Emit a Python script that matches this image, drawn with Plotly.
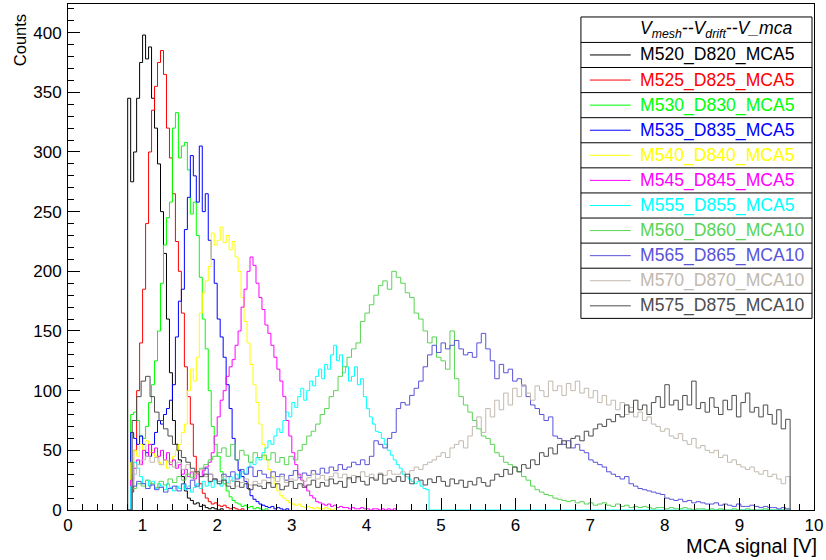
import numpy as np
import plotly.graph_objects as go

# ---------------- data ----------------
BIN_START = 0.80          # first bin lower edge [V]
BIN_W_MCA5 = 0.04         # bin width of the MCA5 histograms [V]
BIN_W_MCA10 = 0.06        # bin width of the MCA10 histograms [V]

names = ["M520_D820_MCA5", "M525_D825_MCA5", "M530_D830_MCA5", "M535_D835_MCA5",
         "M540_D840_MCA5", "M545_D845_MCA5", "M555_D855_MCA5", "M560_D860_MCA10",
         "M565_D865_MCA10", "M570_D870_MCA10", "M575_D875_MCA10"]

m520 = [345, 275, 300, 345, 375, 398, 378, 388, 345, 320,
        290, 250, 215, 160, 115, 75, 55, 42, 28, 16,
        10, 8, 5, 6, 3, 4, 2, 1, 2, 1,
        0, 1]

m525 = [0, 15, 50, 100, 140, 185, 240, 300, 335, 355,
        375, 385, 365, 320, 295, 265, 225, 200, 165, 120,
        95, 72, 45, 30, 22, 14, 10, 7, 5, 6,
        4, 3, 4, 2, 1, 2, 1, 0, 1]

m530 = [0, 80, 82, 75, 62, 60, 70, 90, 105, 125,
        150, 190, 222, 245, 258, 320, 333, 295, 305, 308,
        285, 248, 258, 230, 195, 160, 135, 100, 70, 55,
        45, 32, 22, 16, 11, 8, 6, 5, 3, 4,
        2, 3, 1, 2, 1, 0, 1]

m535 = [0, 65, 60, 55, 62, 55, 48, 45, 55, 65,
        75, 72, 80, 85, 92, 105, 145, 175, 185, 235,
        262, 297, 280, 258, 305, 250, 265, 226, 210, 190,
        160, 145, 128, 105, 85, 60, 42, 33, 28, 24,
        18, 12, 9, 7, 5, 4, 3, 2, 3, 1,
        2, 1, 0, 1]

m540 = [0, 40, 50, 45, 55, 50, 58, 48, 50, 45,
        40, 38, 42, 35, 40, 45, 50, 55, 65, 72,
        100, 118, 108, 128, 165, 182, 192, 204, 232, 222,
        226, 237, 224, 230, 218, 225, 212, 200, 178, 158,
        140, 122, 105, 90, 72, 55, 42, 34, 28, 22,
        16, 12, 10, 8, 6, 5, 4, 5, 3, 2,
        3, 2, 1, 2, 1, 1, 2, 1, 0, 1]

m545 = [0, 25, 35, 42, 38, 50, 45, 55, 48, 52,
        45, 50, 42, 48, 38, 42, 35, 38, 30, 34,
        28, 32, 26, 30, 28, 33, 36, 40, 48, 62,
        78, 92, 100, 112, 120, 126, 138, 150, 170, 185,
        200, 212, 205, 190, 178, 168, 155, 148, 138, 128,
        118, 108, 95, 75, 62, 48, 38, 30, 25, 20,
        16, 12, 10, 7, 6, 5, 4, 5, 3, 4,
        2, 3, 2, 2, 1, 2, 1, 1, 2, 1,
        1, 0, 1, 1, 0, 1, 0, 1, 0, 1]

m555 = [0, 20, 40, 35, 28, 22, 25, 20, 24, 18,
        22, 20, 17, 22, 19, 16, 20, 18, 22, 17,
        20, 15, 19, 22, 18, 24, 20, 23, 19, 25,
        22, 20, 26, 23, 28, 24, 30, 27, 32, 30,
        36, 40, 38, 44, 42, 48, 52, 58, 55, 62,
        68, 65, 75, 82, 78, 90, 86, 95, 102, 92,
        100, 108, 104, 112, 118, 110, 122, 118, 130, 138,
        125, 130, 115, 120, 108, 112, 120, 105, 110, 95,
        85, 78, 72, 66, 65, 60, 55, 50, 46, 42,
        38, 35, 30, 28, 26, 24, 22, 24, 20, 18,
        17]
m555_empty_tail = [0] * 121   # empty bins up to 9.68 V

m560 = [0, 18, 22, 20, 25, 22, 19, 24, 21, 26,
        23, 28, 25, 30, 27, 32, 35, 38, 42, 45,
        48, 52, 45, 55, 42, 50, 46, 40, 48, 44,
        46, 42, 48, 40, 44, 38, 45, 42, 50, 55,
        62, 66, 72, 80, 85, 95, 100, 112, 120, 128,
        135, 140, 158, 165, 172, 180, 188, 192, 185, 200,
        195, 190, 182, 178, 165, 160, 150, 140, 145, 128,
        125, 118, 150, 110, 95, 88, 82, 75, 68, 62,
        60, 55, 48, 45, 40, 38, 36, 32, 28, 25,
        20, 17, 15, 13, 12, 10, 9, 8, 7, 8,
        6, 7, 5, 6, 4, 5, 6, 4, 3, 5,
        3, 4, 2, 3, 2, 3, 2, 1, 2, 2,
        1, 2, 1, 1, 2, 1, 0, 1, 1, 0,
        1, 0, 1, 0, 0, 1, 0, 0, 1, 0,
        0, 0, 1, 0, 0, 0, 0, 0]

m565 = [0, 20, 24, 22, 18, 21, 17, 19, 15, 18,
        20, 16, 22, 18, 25, 20, 28, 35, 30, 26,
        24, 30, 28, 32, 26, 34, 30, 36, 28, 33,
        30, 27, 32, 28, 30, 25, 29, 33, 27, 31,
        29, 33, 30, 35, 31, 36, 33, 38, 34, 36,
        40, 38, 42, 38, 45, 58, 55, 52, 60, 65,
        85, 90, 88, 96, 102, 108, 120, 130, 138, 132,
        140, 135, 138, 142, 135, 130, 132, 128, 140, 148,
        135, 125, 110, 122, 115, 118, 108, 110, 104, 95,
        88, 85, 80, 75, 78, 62, 60, 55, 58, 52,
        55, 50, 48, 42, 40, 38, 36, 32, 30, 28,
        26, 28, 22, 20, 18, 17, 16, 15, 14, 13,
        10, 9, 8, 9, 7, 8, 6, 7, 6, 5,
        5, 6, 4, 5, 4, 3, 5, 3, 3, 4,
        3, 2, 3, 2, 2, 1, 2, 1]

m570 = [0, 30, 38, 42, 45, 40, 44, 38, 42, 40,
        36, 40, 34, 38, 32, 30, 34, 28, 30, 26,
        24, 28, 22, 25, 20, 23, 26, 21, 24, 22,
        25, 22, 27, 24, 28, 23, 26, 25, 29, 24,
        27, 30, 26, 29, 25, 28, 31, 27, 30, 26,
        29, 27, 32, 28, 30, 26, 31, 29, 33, 30,
        30, 32, 28, 33, 36, 34, 38, 40, 42, 45,
        48, 44, 52, 55, 58, 52, 62, 70, 78, 65,
        85, 78, 92, 84, 98, 88, 102, 95, 105, 98,
        92, 104, 100, 95, 108, 100, 104, 96, 106, 100,
        108, 98, 102, 94, 100, 90, 96, 88, 92, 84,
        90, 80, 86, 78, 82, 75, 78, 72, 70, 66,
        68, 62, 60, 64, 58, 55, 60, 52, 54, 50,
        48, 50, 44, 46, 40, 42, 38, 36, 34, 36,
        32, 30, 33, 28, 30, 26, 22, 28]

m575 = [0, 75, 95, 108, 112, 95, 82, 75, 68, 62,
        55, 50, 44, 40, 35, 32, 28, 30, 24, 26,
        22, 25, 20, 18, 24, 19, 22, 17, 21, 20,
        18, 23, 19, 22, 17, 20, 24, 18, 22, 19,
        21, 25, 19, 23, 20, 26, 22, 24, 19, 27,
        23, 28, 24, 21, 27, 25, 30, 22, 26, 24,
        28, 24, 30, 22, 27, 25, 21, 26, 23, 28,
        24, 20, 26, 22, 25, 19, 24, 21, 27, 23,
        20, 25, 30, 28, 34, 30, 36, 32, 38, 35,
        42, 38, 48, 45, 52, 47, 55, 58, 52, 60,
        62, 58, 66, 62, 68, 72, 70, 76, 74, 80,
        78, 88, 82, 92, 84, 88, 80, 90, 95, 86,
        105, 88, 92, 84, 96, 88, 108, 85, 90, 82,
        94, 86, 80, 92, 84, 96, 78, 90, 98, 82,
        86, 78, 88, 80, 72, 84, 68, 76]

series_values = [m520, m525, m530, m535, m540, m545, m555 + m555_empty_tail,
                 m560, m565, m570, m575]
series_binw = [BIN_W_MCA5] * 7 + [BIN_W_MCA10] * 4

# ---------------- styles ----------------
colors = ["#000000", "#ff0000", "#00ff00", "#0000ff", "#ffff00", "#ff00ff",
          "#00ffff", "#59d454", "#5954d9", "#c2b9ae", "#4d4d4d"]
FONT = "Liberation Sans, Arial, Helvetica, sans-serif"

# plot-area pixel geometry
W, H = 826, 560
PL, PR, PT, PB = 68, 817, 3, 510
XMAX, YMAX = 10.0, 424.0


def px_x(px):
    return (px - PL) / (PR - PL)


def px_y(py):
    return (PB - py) / (PB - PT)


fig = go.Figure()
for name, vals, bw, col in zip(names, series_values, series_binw, colors):
    n = len(vals)
    edges = np.round(BIN_START + bw * np.arange(n + 1), 6)
    xs = [edges[0]] + list(edges[:-1]) + [edges[-1]]
    ys = [0] + list(vals) + [0]
    fig.add_trace(go.Scatter(x=xs, y=ys, mode="lines", name=name,
                             line=dict(color=col, width=1, shape="hv"),
                             showlegend=False, hoverinfo="skip"))

fig.update_layout(
    width=W, height=H,
    margin=dict(l=PL, r=W - PR, t=PT, b=H - PB),
    paper_bgcolor="white", plot_bgcolor="white",
    showlegend=False,
    font=dict(family=FONT, size=17, color="black"),
)
fig.update_xaxes(range=[0, XMAX], showgrid=False, zeroline=False,
                 showline=True, linecolor="black", linewidth=1, mirror=True,
                 ticks="inside", ticklen=12, tickwidth=1, tickcolor="black",
                 tick0=0, dtick=1, tickfont=dict(size=17),
                 ticklabelstandoff=0, ticklabeloverflow="allow",
                 minor=dict(ticks="inside", ticklen=6, dtick=0.2,
                            tickcolor="black", showgrid=False))
fig.update_yaxes(range=[0, YMAX], showgrid=False, zeroline=False,
                 showline=True, linecolor="black", linewidth=1, mirror=True,
                 ticks="inside", ticklen=12, tickwidth=1, tickcolor="black",
                 tick0=0, dtick=50, tickfont=dict(size=17),
                 ticklabelstandoff=2, ticklabeloverflow="allow",
                 minor=dict(ticks="inside", ticklen=6, dtick=10,
                            tickcolor="black", showgrid=False))

annotations = [
    dict(text="Counts", textangle=-90, xref="paper", yref="paper",
         x=px_x(20), y=px_y(11), xanchor="center", yanchor="top",
         showarrow=False, font=dict(size=16.5, family=FONT)),
    dict(text="MCA signal [V]", xref="paper", yref="paper",
         x=px_x(822), y=px_y(546), xanchor="right", yanchor="middle",
         showarrow=False, font=dict(size=20, family=FONT)),
]

# ---------------- legend (ROOT-style boxed table) ----------------
LX0, LX1, LY0, LY1 = 583, 815, 16, 318
HEAD_B = 41.5
ROW_H = (LY1 - HEAD_B) / len(names)
LEG_FS = 17.6
shapes = [dict(type="rect", xref="paper", yref="paper",
               x0=px_x(LX0), x1=px_x(LX1), y0=px_y(LY1), y1=px_y(LY0),
               line=dict(color="black", width=1), fillcolor="white", layer="above")]
sep_y = [HEAD_B + ROW_H * i for i in range(len(names))]
for sy in sep_y:
    shapes.append(dict(type="line", xref="paper", yref="paper",
                       x0=px_x(LX0), x1=px_x(LX1), y0=px_y(sy), y1=px_y(sy),
                       line=dict(color="black", width=1), layer="above"))
annotations.append(dict(text="<i>V<sub>mesh</sub>--V<sub>drift</sub>--V_mca</i>",
                        xref="paper", yref="paper", x=px_x(640), y=px_y((LY0 + HEAD_B) / 2),
                        xanchor="left", yanchor="middle", showarrow=False,
                        font=dict(size=LEG_FS, family=FONT, color="black")))
for i, (name, col) in enumerate(zip(names, colors)):
    cy = HEAD_B + ROW_H * (i + 0.5)
    shapes.append(dict(type="line", xref="paper", yref="paper",
                       x0=px_x(592), x1=px_x(633), y0=px_y(cy), y1=px_y(cy),
                       line=dict(color=col, width=1), layer="above"))
    annotations.append(dict(text=name, xref="paper", yref="paper",
                            x=px_x(640), y=px_y(cy), xanchor="left", yanchor="middle",
                            showarrow=False,
                            font=dict(size=LEG_FS, family=FONT, color=col)))

fig.update_layout(shapes=shapes, annotations=annotations)
fig.write_html("out.html")
